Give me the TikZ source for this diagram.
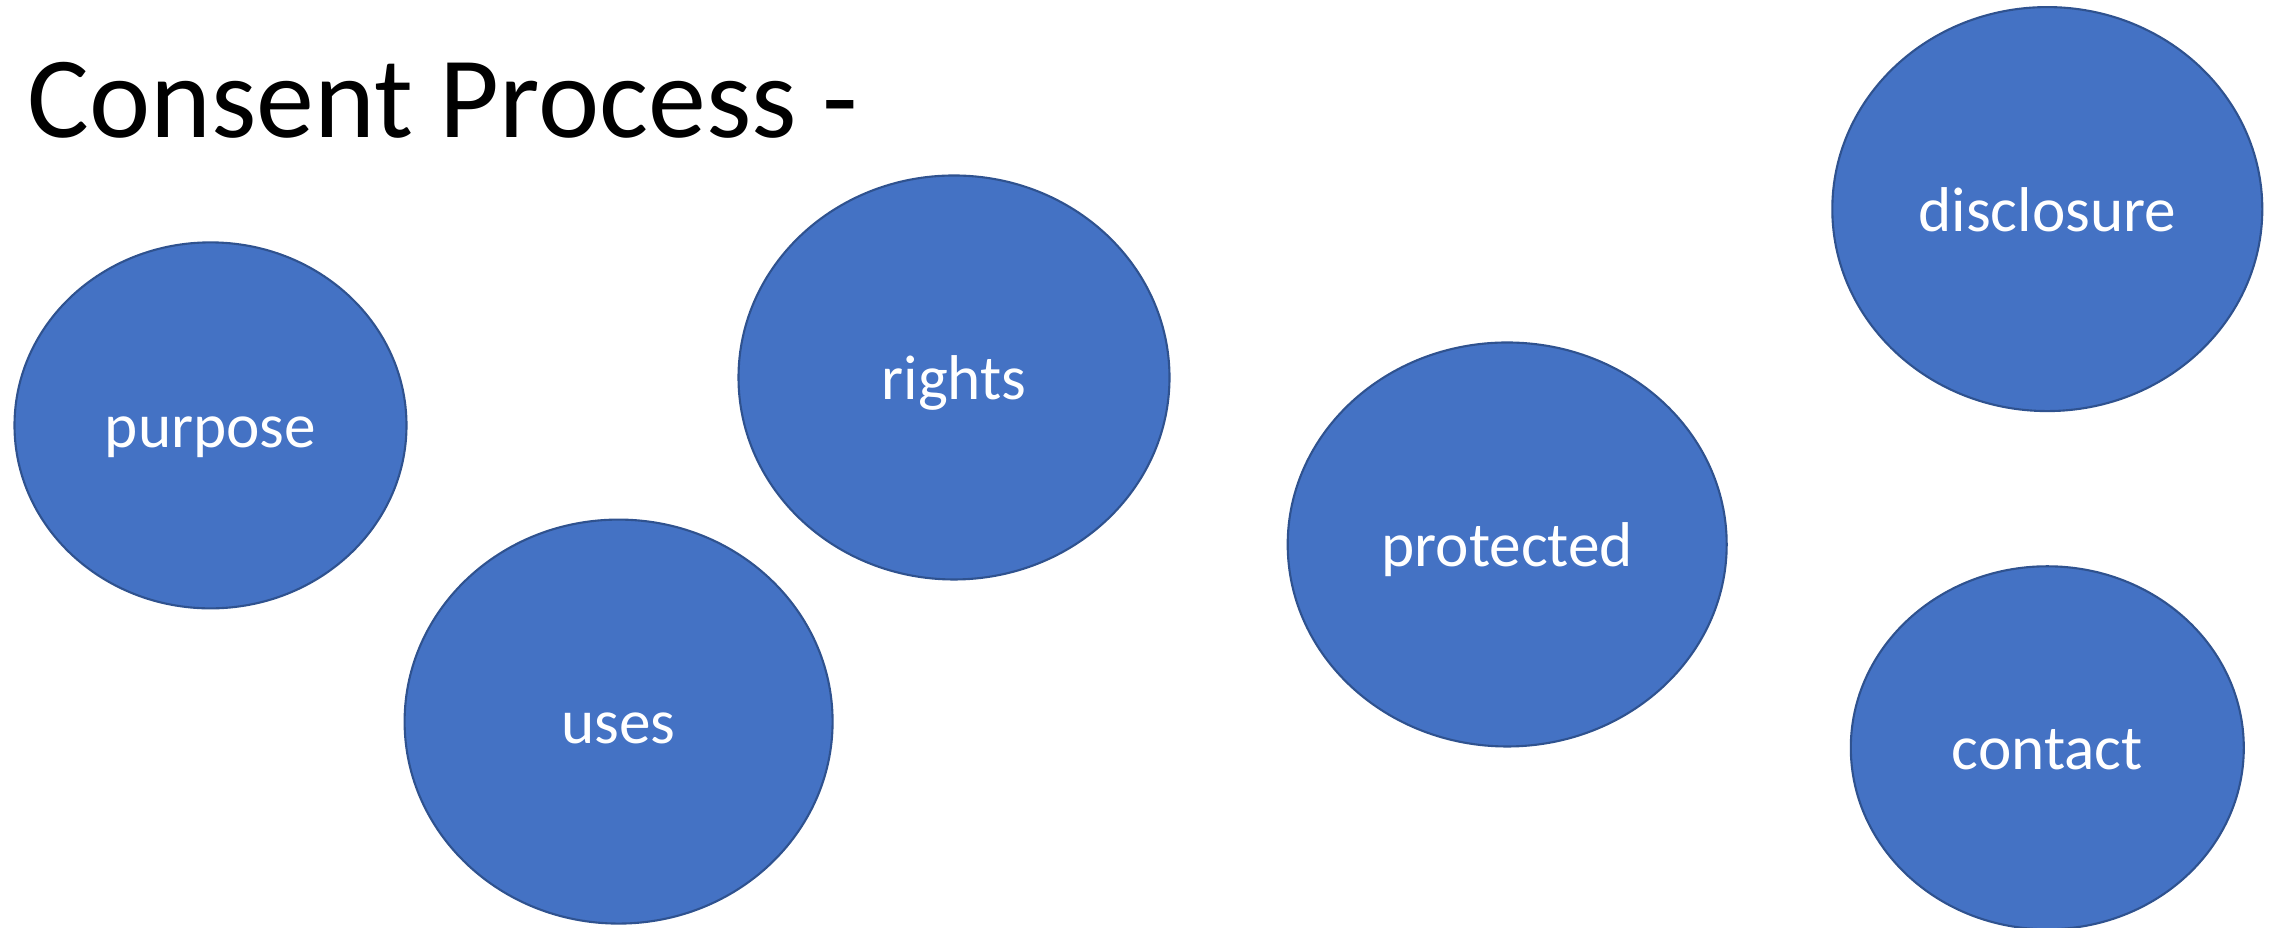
\documentclass[tikz,border=0pt]{standalone}
\usepackage{fontspec}
\setmainfont{Carlito}
\usepackage{tikz}
\usetikzlibrary{shapes.geometric}

\definecolor{bubblefill}{HTML}{4472C4}
\definecolor{bubbleline}{HTML}{2F528F}
\tikzset{
  bubble/.style={ellipse, draw=bubbleline, fill=bubblefill, line width=0.6pt,
    inner sep=0pt, text=white, text height=12.5pt, text depth=0pt,
    font=\fontsize{18}{22}\selectfont}
}

\begin{document}
\begin{tikzpicture}
\useasboundingbox (0,0) rectangle (22.77,-9.28);

\node[anchor=base west, inner sep=0pt, font=\fontsize{33}{38}\selectfont] (title) at (0.27,-1.38) {Consent Process -};

\node[bubble, minimum width=3.92cm, minimum height=3.66cm] (purpose) at (2.105,-4.254) {purpose};
\node[bubble, minimum width=4.28cm, minimum height=4.04cm] (uses) at (6.186,-7.216) {uses};
\node[bubble, minimum width=4.31cm, minimum height=4.04cm] (rights) at (9.540,-3.775) {rights};
\node[bubble, minimum width=4.39cm, minimum height=4.04cm] (protected) at (15.072,-5.445) {protected};
\node[bubble, minimum width=4.30cm, minimum height=4.04cm] (disclosure) at (20.473,-2.091) {disclosure};
\node[bubble, minimum width=3.93cm, minimum height=3.63cm] (contact) at (20.473,-7.478) {contact};
\end{tikzpicture}
\end{document}
